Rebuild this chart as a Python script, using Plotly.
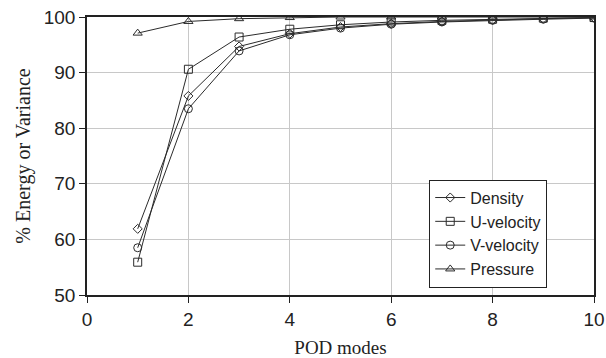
import plotly.graph_objects as go

# POD mode number and cumulative energy / variance captured (%)
modes = [1, 2, 3, 4, 5, 6, 7, 8, 9, 10]
density = [61.9, 85.8, 94.7, 97.0, 98.2, 98.8, 99.2, 99.5, 99.7, 99.9]
u_velocity = [55.9, 90.6, 96.4, 97.8, 98.6, 99.1, 99.4, 99.6, 99.8, 99.9]
v_velocity = [58.5, 83.5, 93.9, 96.8, 98.0, 98.7, 99.1, 99.4, 99.6, 99.8]
pressure = [97.1, 99.2, 99.7, 99.9, 100.0, 100.0, 100.0, 100.0, 100.0, 100.0]

series = [
    ("Density", density, "diamond-open", 7),
    ("U-velocity", u_velocity, "square-open", 8),
    ("V-velocity", v_velocity, "circle-open", 8),
    ("Pressure", pressure, "triangle-up-open", 8),
]

line_color = "#2b2b2b"
serif = "Liberation Serif, Times New Roman, serif"
fig = go.Figure()
for name, vals, sym, sz in series:
    fig.add_trace(go.Scatter(
        x=modes, y=vals, name=name, mode="lines+markers",
        line=dict(color=line_color, width=1),
        marker=dict(symbol=sym, size=sz, color=line_color,
                    line=dict(color=line_color, width=1)),
    ))

fig.update_layout(
    width=606, height=358,
    margin=dict(l=87, r=12, t=17, b=63),
    paper_bgcolor="white", plot_bgcolor="white",
    font=dict(family="Liberation Sans, Arial, sans-serif", size=19, color="#222"),
    showlegend=True,
    legend=dict(
        x=0.675, y=0.415, xanchor="left", yanchor="top",
        bordercolor="#222", borderwidth=1, bgcolor="white",
        font=dict(size=16, color="#222"),
        tracegroupgap=0, itemsizing="trace",
    ),
)
fig.update_xaxes(
    range=[0, 10], tickvals=[0, 2, 4, 6, 8, 10], automargin=False,
    showgrid=True, gridcolor="#c8c8c8", gridwidth=1,
    showline=True, linecolor="#222", linewidth=1.5, mirror=True,
    ticks="outside", ticklen=6, tickcolor="#222", zeroline=False,
    title=dict(text="POD modes", font=dict(family=serif, size=19), standoff=13),
)
fig.update_yaxes(
    range=[50, 100], tickvals=[50, 60, 70, 80, 90, 100], automargin=False,
    showgrid=True, gridcolor="#c8c8c8", gridwidth=1,
    showline=True, linecolor="#222", linewidth=1.5, mirror=True,
    ticks="outside", ticklen=6, tickcolor="#222", zeroline=False,
    title=dict(text="% Energy or Variance", font=dict(family=serif, size=20), standoff=8),
)

fig.write_html("out.html")
